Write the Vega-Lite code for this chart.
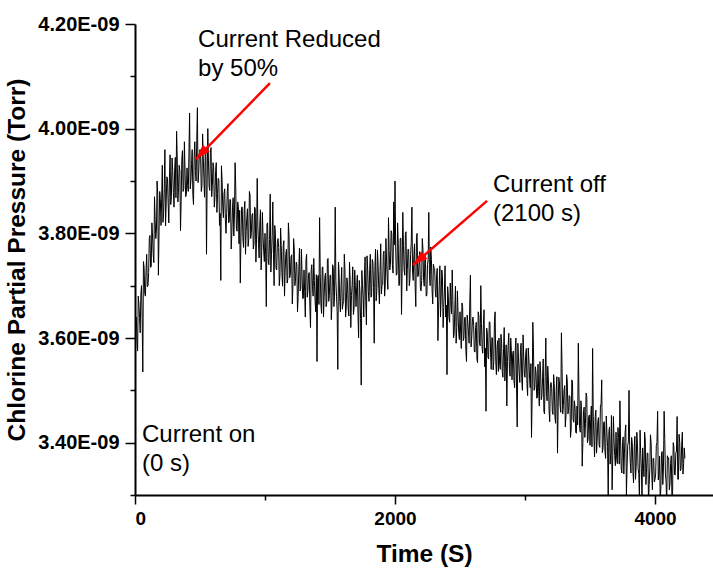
{
 "$schema": "https://vega.github.io/schema/vega-lite/v6.json",
 "width": 578,
 "height": 471,
 "autosize": {"type": "none"},
 "padding": {"left": 135, "top": 24, "right": 0, "bottom": 74},
 "background": "white",
 "config": {
  "view": {"stroke": null},
  "font": "Liberation Sans",
  "axis": {
   "grid": false,
   "domainColor": "black",
   "domainWidth": 2,
   "tickColor": "black",
   "tickWidth": 1.5,
   "labelFont": "Liberation Sans",
   "labelFontWeight": "bold",
   "labelColor": "black",
   "titleFont": "Liberation Sans",
   "titleFontWeight": "bold",
   "titleColor": "black"
  }
 },
 "datasets": {
  "pressure": [
{"t":0,"p":3.585e-9},{"t":5,"p":3.637e-9},{"t":10,"p":3.640e-9},{"t":15,"p":3.596e-9},{"t":20,"p":3.575e-9},{"t":25,"p":3.680e-9},{"t":30,"p":3.665e-9},{"t":35,"p":3.639e-9},{"t":40,"p":3.610e-9},{"t":45,"p":3.683e-9},{"t":50,"p":3.700e-9},{"t":55,"p":3.637e-9},{"t":60,"p":3.535e-9},{"t":65,"p":3.746e-9},{"t":70,"p":3.735e-9},{"t":75,"p":3.685e-9},{"t":80,"p":3.680e-9},{"t":85,"p":3.729e-9},{"t":90,"p":3.760e-9},{"t":95,"p":3.698e-9},
{"t":100,"p":3.700e-9},{"t":105,"p":3.725e-9},{"t":110,"p":3.790e-9},{"t":115,"p":3.796e-9},{"t":120,"p":3.735e-9},{"t":125,"p":3.737e-9},{"t":130,"p":3.820e-9},{"t":135,"p":3.793e-9},{"t":140,"p":3.760e-9},{"t":145,"p":3.744e-9},{"t":150,"p":3.870e-9},{"t":155,"p":3.825e-9},{"t":160,"p":3.790e-9},{"t":165,"p":3.806e-9},{"t":170,"p":3.900e-9},{"t":175,"p":3.872e-9},{"t":180,"p":3.720e-9},{"t":185,"p":3.803e-9},{"t":190,"p":3.880e-9},{"t":195,"p":3.864e-9},
{"t":200,"p":3.815e-9},{"t":205,"p":3.867e-9},{"t":210,"p":3.930e-9},{"t":215,"p":3.821e-9},{"t":220,"p":3.840e-9},{"t":225,"p":3.885e-9},{"t":230,"p":3.960e-9},{"t":235,"p":3.814e-9},{"t":240,"p":3.860e-9},{"t":245,"p":3.908e-9},{"t":250,"p":3.905e-9},{"t":255,"p":3.857e-9},{"t":260,"p":3.820e-9},{"t":265,"p":3.906e-9},{"t":270,"p":3.950e-9},{"t":275,"p":3.855e-9},{"t":280,"p":3.870e-9},{"t":285,"p":3.944e-9},{"t":290,"p":3.920e-9},{"t":295,"p":3.878e-9},
{"t":300,"p":3.850e-9},{"t":305,"p":3.921e-9},{"t":310,"p":3.945e-9},{"t":315,"p":3.868e-9},{"t":320,"p":3.995e-9},{"t":325,"p":3.940e-9},{"t":330,"p":3.860e-9},{"t":335,"p":3.887e-9},{"t":340,"p":3.930e-9},{"t":345,"p":3.919e-9},{"t":350,"p":3.805e-9},{"t":355,"p":3.861e-9},{"t":360,"p":3.940e-9},{"t":365,"p":3.958e-9},{"t":370,"p":3.880e-9},{"t":375,"p":3.885e-9},{"t":380,"p":3.975e-9},{"t":385,"p":3.917e-9},{"t":390,"p":3.870e-9},{"t":395,"p":3.874e-9},
{"t":400,"p":3.925e-9},{"t":405,"p":3.891e-9},{"t":410,"p":3.880e-9},{"t":415,"p":3.953e-9},{"t":420,"p":4.030e-9},{"t":425,"p":3.885e-9},{"t":430,"p":3.900e-9},{"t":435,"p":3.932e-9},{"t":440,"p":3.960e-9},{"t":445,"p":3.874e-9},{"t":450,"p":3.855e-9},{"t":455,"p":3.946e-9},{"t":460,"p":3.975e-9},{"t":465,"p":3.918e-9},{"t":470,"p":3.900e-9},{"t":475,"p":3.977e-9},{"t":480,"p":4.040e-9},{"t":485,"p":3.897e-9},{"t":490,"p":3.915e-9},{"t":495,"p":3.949e-9},
{"t":500,"p":3.960e-9},{"t":505,"p":3.943e-9},{"t":510,"p":3.880e-9},{"t":515,"p":3.890e-9},{"t":520,"p":3.990e-9},{"t":525,"p":3.947e-9},{"t":530,"p":3.905e-9},{"t":535,"p":3.869e-9},{"t":540,"p":3.950e-9},{"t":545,"p":3.956e-9},{"t":550,"p":3.760e-9},{"t":555,"p":3.898e-9},{"t":560,"p":4.000e-9},{"t":565,"p":3.940e-9},{"t":570,"p":3.890e-9},{"t":575,"p":3.882e-9},{"t":580,"p":3.955e-9},{"t":585,"p":3.964e-9},{"t":590,"p":3.870e-9},{"t":595,"p":3.891e-9},
{"t":600,"p":3.935e-9},{"t":605,"p":3.928e-9},{"t":610,"p":3.850e-9},{"t":615,"p":3.869e-9},{"t":620,"p":3.920e-9},{"t":625,"p":3.935e-9},{"t":630,"p":3.840e-9},{"t":635,"p":3.876e-9},{"t":640,"p":3.905e-9},{"t":645,"p":3.902e-9},{"t":650,"p":3.815e-9},{"t":655,"p":3.838e-9},{"t":660,"p":3.710e-9},{"t":665,"p":3.929e-9},{"t":670,"p":3.900e-9},{"t":675,"p":3.850e-9},{"t":680,"p":3.830e-9},{"t":685,"p":3.876e-9},{"t":690,"p":3.885e-9},{"t":695,"p":3.827e-9},
{"t":700,"p":3.800e-9},{"t":705,"p":3.838e-9},{"t":710,"p":3.880e-9},{"t":715,"p":3.895e-9},{"t":720,"p":3.820e-9},{"t":725,"p":3.822e-9},{"t":730,"p":3.865e-9},{"t":735,"p":3.864e-9},{"t":740,"p":3.770e-9},{"t":745,"p":3.801e-9},{"t":750,"p":3.850e-9},{"t":755,"p":3.868e-9},{"t":760,"p":3.795e-9},{"t":765,"p":3.835e-9},{"t":770,"p":3.935e-9},{"t":775,"p":3.887e-9},{"t":780,"p":3.810e-9},{"t":785,"p":3.804e-9},{"t":790,"p":3.860e-9},{"t":795,"p":3.851e-9},
{"t":800,"p":3.780e-9},{"t":805,"p":3.844e-9},{"t":810,"p":3.705e-9},{"t":815,"p":3.792e-9},{"t":820,"p":3.850e-9},{"t":825,"p":3.850e-9},{"t":830,"p":3.790e-9},{"t":835,"p":3.773e-9},{"t":840,"p":3.845e-9},{"t":845,"p":3.861e-9},{"t":850,"p":3.760e-9},{"t":855,"p":3.804e-9},{"t":860,"p":3.830e-9},{"t":865,"p":3.847e-9},{"t":870,"p":3.775e-9},{"t":875,"p":3.790e-9},{"t":880,"p":3.880e-9},{"t":885,"p":3.873e-9},{"t":890,"p":3.790e-9},{"t":895,"p":3.801e-9},
{"t":900,"p":3.835e-9},{"t":905,"p":3.838e-9},{"t":910,"p":3.770e-9},{"t":915,"p":3.780e-9},{"t":920,"p":3.850e-9},{"t":925,"p":3.847e-9},{"t":930,"p":3.745e-9},{"t":935,"p":3.789e-9},{"t":940,"p":3.905e-9},{"t":945,"p":3.816e-9},{"t":950,"p":3.780e-9},{"t":955,"p":3.753e-9},{"t":960,"p":3.820e-9},{"t":965,"p":3.845e-9},{"t":970,"p":3.730e-9},{"t":975,"p":3.767e-9},{"t":980,"p":3.840e-9},{"t":985,"p":3.794e-9},{"t":990,"p":3.765e-9},{"t":995,"p":3.746e-9},
{"t":1000,"p":3.800e-9},{"t":1005,"p":3.759e-9},{"t":1010,"p":3.660e-9},{"t":1015,"p":3.817e-9},{"t":1020,"p":3.820e-9},{"t":1025,"p":3.745e-9},{"t":1030,"p":3.740e-9},{"t":1035,"p":3.788e-9},{"t":1040,"p":3.875e-9},{"t":1045,"p":3.726e-9},{"t":1050,"p":3.760e-9},{"t":1055,"p":3.794e-9},{"t":1060,"p":3.860e-9},{"t":1065,"p":3.762e-9},{"t":1070,"p":3.700e-9},{"t":1075,"p":3.815e-9},{"t":1080,"p":3.800e-9},{"t":1085,"p":3.733e-9},{"t":1090,"p":3.730e-9},{"t":1095,"p":3.781e-9},
{"t":1100,"p":3.790e-9},{"t":1105,"p":3.773e-9},{"t":1110,"p":3.700e-9},{"t":1115,"p":3.720e-9},{"t":1120,"p":3.810e-9},{"t":1125,"p":3.777e-9},{"t":1130,"p":3.725e-9},{"t":1135,"p":3.699e-9},{"t":1140,"p":3.775e-9},{"t":1145,"p":3.786e-9},{"t":1150,"p":3.680e-9},{"t":1155,"p":3.728e-9},{"t":1160,"p":3.760e-9},{"t":1165,"p":3.770e-9},{"t":1170,"p":3.705e-9},{"t":1175,"p":3.712e-9},{"t":1180,"p":3.820e-9},{"t":1185,"p":3.794e-9},{"t":1190,"p":3.715e-9},{"t":1195,"p":3.721e-9},
{"t":1200,"p":3.755e-9},{"t":1205,"p":3.759e-9},{"t":1210,"p":3.665e-9},{"t":1215,"p":3.702e-9},{"t":1220,"p":3.790e-9},{"t":1225,"p":3.770e-9},{"t":1230,"p":3.700e-9},{"t":1235,"p":3.713e-9},{"t":1240,"p":3.745e-9},{"t":1245,"p":3.741e-9},{"t":1250,"p":3.650e-9},{"t":1255,"p":3.679e-9},{"t":1260,"p":3.730e-9},{"t":1265,"p":3.772e-9},{"t":1270,"p":3.690e-9},{"t":1275,"p":3.695e-9},{"t":1280,"p":3.770e-9},{"t":1285,"p":3.723e-9},{"t":1290,"p":3.675e-9},{"t":1295,"p":3.676e-9},
{"t":1300,"p":3.730e-9},{"t":1305,"p":3.689e-9},{"t":1310,"p":3.640e-9},{"t":1315,"p":3.748e-9},{"t":1320,"p":3.760e-9},{"t":1325,"p":3.678e-9},{"t":1330,"p":3.690e-9},{"t":1335,"p":3.722e-9},{"t":1340,"p":3.725e-9},{"t":1345,"p":3.660e-9},{"t":1350,"p":3.620e-9},{"t":1355,"p":3.729e-9},{"t":1360,"p":3.740e-9},{"t":1365,"p":3.698e-9},{"t":1370,"p":3.680e-9},{"t":1375,"p":3.752e-9},{"t":1380,"p":3.710e-9},{"t":1385,"p":3.672e-9},{"t":1390,"p":3.650e-9},{"t":1395,"p":3.721e-9},
{"t":1400,"p":3.555e-9},{"t":1405,"p":3.715e-9},{"t":1410,"p":3.720e-9},{"t":1415,"p":3.664e-9},{"t":1420,"p":3.830e-9},{"t":1425,"p":3.723e-9},{"t":1430,"p":3.665e-9},{"t":1435,"p":3.647e-9},{"t":1440,"p":3.735e-9},{"t":1445,"p":3.736e-9},{"t":1450,"p":3.640e-9},{"t":1455,"p":3.680e-9},{"t":1460,"p":3.715e-9},{"t":1465,"p":3.724e-9},{"t":1470,"p":3.660e-9},{"t":1475,"p":3.668e-9},{"t":1480,"p":3.750e-9},{"t":1485,"p":3.752e-9},{"t":1490,"p":3.670e-9},{"t":1495,"p":3.681e-9},
{"t":1500,"p":3.720e-9},{"t":1505,"p":3.720e-9},{"t":1510,"p":3.635e-9},{"t":1515,"p":3.665e-9},{"t":1520,"p":3.740e-9},{"t":1525,"p":3.735e-9},{"t":1530,"p":3.660e-9},{"t":1535,"p":3.680e-9},{"t":1540,"p":3.850e-9},{"t":1545,"p":3.710e-9},{"t":1550,"p":3.680e-9},{"t":1555,"p":3.650e-9},{"t":1560,"p":3.540e-9},{"t":1565,"p":3.745e-9},{"t":1570,"p":3.725e-9},{"t":1575,"p":3.670e-9},{"t":1580,"p":3.650e-9},{"t":1585,"p":3.700e-9},{"t":1590,"p":3.735e-9},{"t":1595,"p":3.655e-9},
{"t":1600,"p":3.665e-9},{"t":1605,"p":3.670e-9},{"t":1610,"p":3.760e-9},{"t":1615,"p":3.729e-9},{"t":1620,"p":3.640e-9},{"t":1625,"p":3.659e-9},{"t":1630,"p":3.715e-9},{"t":1635,"p":3.703e-9},{"t":1640,"p":3.655e-9},{"t":1645,"p":3.642e-9},{"t":1650,"p":3.745e-9},{"t":1655,"p":3.711e-9},{"t":1660,"p":3.620e-9},{"t":1665,"p":3.681e-9},{"t":1670,"p":3.700e-9},{"t":1675,"p":3.736e-9},{"t":1680,"p":3.645e-9},{"t":1685,"p":3.656e-9},{"t":1690,"p":3.730e-9},{"t":1695,"p":3.700e-9},
{"t":1700,"p":3.660e-9},{"t":1705,"p":3.696e-9},{"t":1710,"p":3.720e-9},{"t":1715,"p":3.648e-9},{"t":1720,"p":3.600e-9},{"t":1725,"p":3.710e-9},{"t":1730,"p":3.690e-9},{"t":1735,"p":3.637e-9},{"t":1740,"p":3.510e-9},{"t":1745,"p":3.729e-9},{"t":1750,"p":3.700e-9},{"t":1755,"p":3.676e-9},{"t":1760,"p":3.640e-9},{"t":1765,"p":3.723e-9},{"t":1770,"p":3.755e-9},{"t":1775,"p":3.670e-9},{"t":1780,"p":3.625e-9},{"t":1785,"p":3.757e-9},{"t":1790,"p":3.730e-9},{"t":1795,"p":3.689e-9},
{"t":1800,"p":3.670e-9},{"t":1805,"p":3.731e-9},{"t":1810,"p":3.760e-9},{"t":1815,"p":3.678e-9},{"t":1820,"p":3.680e-9},{"t":1825,"p":3.750e-9},{"t":1830,"p":3.745e-9},{"t":1835,"p":3.697e-9},{"t":1840,"p":3.590e-9},{"t":1845,"p":3.729e-9},{"t":1850,"p":3.770e-9},{"t":1855,"p":3.671e-9},{"t":1860,"p":3.690e-9},{"t":1865,"p":3.768e-9},{"t":1870,"p":3.740e-9},{"t":1875,"p":3.695e-9},{"t":1880,"p":3.665e-9},{"t":1885,"p":3.727e-9},{"t":1890,"p":3.780e-9},{"t":1895,"p":3.684e-9},
{"t":1900,"p":3.700e-9},{"t":1905,"p":3.702e-9},{"t":1910,"p":3.760e-9},{"t":1915,"p":3.766e-9},{"t":1920,"p":3.680e-9},{"t":1925,"p":3.700e-9},{"t":1930,"p":3.790e-9},{"t":1935,"p":3.749e-9},{"t":1940,"p":3.715e-9},{"t":1945,"p":3.693e-9},{"t":1950,"p":3.830e-9},{"t":1955,"p":3.767e-9},{"t":1960,"p":3.730e-9},{"t":1965,"p":3.741e-9},{"t":1970,"p":3.805e-9},{"t":1975,"p":3.800e-9},{"t":1980,"p":3.740e-9},{"t":1985,"p":3.724e-9},{"t":1990,"p":3.860e-9},{"t":1995,"p":3.778e-9},
{"t":2000,"p":3.900e-9},{"t":2005,"p":3.774e-9},{"t":2010,"p":3.720e-9},{"t":2015,"p":3.722e-9},{"t":2020,"p":3.820e-9},{"t":2025,"p":3.780e-9},{"t":2030,"p":3.700e-9},{"t":2035,"p":3.703e-9},{"t":2040,"p":3.790e-9},{"t":2045,"p":3.791e-9},{"t":2050,"p":3.645e-9},{"t":2055,"p":3.734e-9},{"t":2060,"p":3.840e-9},{"t":2065,"p":3.777e-9},{"t":2070,"p":3.730e-9},{"t":2075,"p":3.720e-9},{"t":2080,"p":3.800e-9},{"t":2085,"p":3.803e-9},{"t":2090,"p":3.690e-9},{"t":2095,"p":3.731e-9},
{"t":2100,"p":3.770e-9},{"t":2105,"p":3.769e-9},{"t":2110,"p":3.700e-9},{"t":2115,"p":3.714e-9},{"t":2120,"p":3.760e-9},{"t":2125,"p":3.783e-9},{"t":2130,"p":3.850e-9},{"t":2135,"p":3.728e-9},{"t":2140,"p":3.710e-9},{"t":2145,"p":3.758e-9},{"t":2150,"p":3.780e-9},{"t":2155,"p":3.697e-9},{"t":2160,"p":3.660e-9},{"t":2165,"p":3.792e-9},{"t":2170,"p":3.800e-9},{"t":2175,"p":3.717e-9},{"t":2180,"p":3.720e-9},{"t":2185,"p":3.742e-9},{"t":2190,"p":3.765e-9},{"t":2195,"p":3.696e-9},
{"t":2200,"p":3.690e-9},{"t":2205,"p":3.710e-9},{"t":2210,"p":3.790e-9},{"t":2215,"p":3.769e-9},{"t":2220,"p":3.710e-9},{"t":2225,"p":3.699e-9},{"t":2230,"p":3.760e-9},{"t":2235,"p":3.743e-9},{"t":2240,"p":3.680e-9},{"t":2245,"p":3.682e-9},{"t":2250,"p":3.740e-9},{"t":2255,"p":3.751e-9},{"t":2260,"p":3.840e-9},{"t":2265,"p":3.720e-9},{"t":2270,"p":3.700e-9},{"t":2275,"p":3.774e-9},{"t":2280,"p":3.750e-9},{"t":2285,"p":3.693e-9},{"t":2290,"p":3.665e-9},{"t":2295,"p":3.741e-9},
{"t":2300,"p":3.735e-9},{"t":2305,"p":3.733e-9},{"t":2310,"p":3.690e-9},{"t":2315,"p":3.678e-9},{"t":2320,"p":3.720e-9},{"t":2325,"p":3.733e-9},{"t":2330,"p":3.595e-9},{"t":2335,"p":3.653e-9},{"t":2340,"p":3.700e-9},{"t":2345,"p":3.738e-9},{"t":2350,"p":3.640e-9},{"t":2355,"p":3.678e-9},{"t":2360,"p":3.730e-9},{"t":2365,"p":3.718e-9},{"t":2370,"p":3.620e-9},{"t":2375,"p":3.658e-9},{"t":2380,"p":3.690e-9},{"t":2385,"p":3.738e-9},{"t":2390,"p":3.640e-9},{"t":2395,"p":3.663e-9},
{"t":2400,"p":3.530e-9},{"t":2405,"p":3.698e-9},{"t":2410,"p":3.680e-9},{"t":2415,"p":3.639e-9},{"t":2420,"p":3.630e-9},{"t":2425,"p":3.705e-9},{"t":2430,"p":3.665e-9},{"t":2435,"p":3.646e-9},{"t":2440,"p":3.730e-9},{"t":2445,"p":3.672e-9},{"t":2450,"p":3.600e-9},{"t":2455,"p":3.608e-9},{"t":2460,"p":3.655e-9},{"t":2465,"p":3.699e-9},{"t":2470,"p":3.590e-9},{"t":2475,"p":3.620e-9},{"t":2480,"p":3.690e-9},{"t":2485,"p":3.646e-9},{"t":2490,"p":3.610e-9},{"t":2495,"p":3.597e-9},
{"t":2500,"p":3.650e-9},{"t":2505,"p":3.609e-9},{"t":2510,"p":3.580e-9},{"t":2515,"p":3.667e-9},{"t":2520,"p":3.660e-9},{"t":2525,"p":3.595e-9},{"t":2530,"p":3.600e-9},{"t":2535,"p":3.638e-9},{"t":2540,"p":3.640e-9},{"t":2545,"p":3.576e-9},{"t":2550,"p":3.555e-9},{"t":2555,"p":3.644e-9},{"t":2560,"p":3.630e-9},{"t":2565,"p":3.612e-9},{"t":2570,"p":3.590e-9},{"t":2575,"p":3.665e-9},{"t":2580,"p":3.720e-9},{"t":2585,"p":3.583e-9},{"t":2590,"p":3.600e-9},{"t":2595,"p":3.631e-9},
{"t":2600,"p":3.640e-9},{"t":2605,"p":3.624e-9},{"t":2610,"p":3.575e-9},{"t":2615,"p":3.573e-9},{"t":2620,"p":3.620e-9},{"t":2625,"p":3.630e-9},{"t":2630,"p":3.560e-9},{"t":2635,"p":3.553e-9},{"t":2640,"p":3.650e-9},{"t":2645,"p":3.642e-9},{"t":2650,"p":3.590e-9},{"t":2655,"p":3.585e-9},{"t":2660,"p":3.700e-9},{"t":2665,"p":3.628e-9},{"t":2670,"p":3.580e-9},{"t":2675,"p":3.571e-9},{"t":2680,"p":3.625e-9},{"t":2685,"p":3.654e-9},{"t":2690,"p":3.545e-9},{"t":2695,"p":3.581e-9},
{"t":2700,"p":3.460e-9},{"t":2705,"p":3.619e-9},{"t":2710,"p":3.610e-9},{"t":2715,"p":3.563e-9},{"t":2720,"p":3.560e-9},{"t":2725,"p":3.631e-9},{"t":2730,"p":3.630e-9},{"t":2735,"p":3.573e-9},{"t":2740,"p":3.540e-9},{"t":2745,"p":3.601e-9},{"t":2750,"p":3.600e-9},{"t":2755,"p":3.539e-9},{"t":2760,"p":3.555e-9},{"t":2765,"p":3.632e-9},{"t":2770,"p":3.650e-9},{"t":2775,"p":3.555e-9},{"t":2780,"p":3.530e-9},{"t":2785,"p":3.583e-9},{"t":2790,"p":3.595e-9},{"t":2795,"p":3.536e-9},
{"t":2800,"p":3.600e-9},{"t":2805,"p":3.549e-9},{"t":2810,"p":3.540e-9},{"t":2815,"p":3.607e-9},{"t":2820,"p":3.590e-9},{"t":2825,"p":3.536e-9},{"t":2830,"p":3.525e-9},{"t":2835,"p":3.580e-9},{"t":2840,"p":3.620e-9},{"t":2845,"p":3.518e-9},{"t":2850,"p":3.555e-9},{"t":2855,"p":3.587e-9},{"t":2860,"p":3.470e-9},{"t":2865,"p":3.555e-9},{"t":2870,"p":3.585e-9},{"t":2875,"p":3.609e-9},{"t":2880,"p":3.540e-9},{"t":2885,"p":3.527e-9},{"t":2890,"p":3.600e-9},{"t":2895,"p":3.576e-9},
{"t":2900,"p":3.520e-9},{"t":2905,"p":3.569e-9},{"t":2910,"p":3.575e-9},{"t":2915,"p":3.518e-9},{"t":2920,"p":3.505e-9},{"t":2925,"p":3.577e-9},{"t":2930,"p":3.600e-9},{"t":2935,"p":3.501e-9},{"t":2940,"p":3.430e-9},{"t":2945,"p":3.590e-9},{"t":2950,"p":3.560e-9},{"t":2955,"p":3.534e-9},{"t":2960,"p":3.515e-9},{"t":2965,"p":3.578e-9},{"t":2970,"p":3.590e-9},{"t":2975,"p":3.522e-9},{"t":2980,"p":3.500e-9},{"t":2985,"p":3.606e-9},{"t":2990,"p":3.565e-9},{"t":2995,"p":3.531e-9},
{"t":3000,"p":3.525e-9},{"t":3005,"p":3.569e-9},{"t":3010,"p":3.580e-9},{"t":3015,"p":3.513e-9},{"t":3020,"p":3.490e-9},{"t":3025,"p":3.581e-9},{"t":3030,"p":3.560e-9},{"t":3035,"p":3.523e-9},{"t":3040,"p":3.505e-9},{"t":3045,"p":3.551e-9},{"t":3050,"p":3.410e-9},{"t":3055,"p":3.489e-9},{"t":3060,"p":3.630e-9},{"t":3065,"p":3.582e-9},{"t":3070,"p":3.500e-9},{"t":3075,"p":3.505e-9},{"t":3080,"p":3.545e-9},{"t":3085,"p":3.533e-9},{"t":3090,"p":3.485e-9},{"t":3095,"p":3.486e-9},
{"t":3100,"p":3.550e-9},{"t":3105,"p":3.498e-9},{"t":3110,"p":3.470e-9},{"t":3115,"p":3.555e-9},{"t":3120,"p":3.535e-9},{"t":3125,"p":3.482e-9},{"t":3130,"p":3.490e-9},{"t":3135,"p":3.524e-9},{"t":3140,"p":3.560e-9},{"t":3145,"p":3.460e-9},{"t":3150,"p":3.455e-9},{"t":3155,"p":3.527e-9},{"t":3160,"p":3.600e-9},{"t":3165,"p":3.494e-9},{"t":3170,"p":3.480e-9},{"t":3175,"p":3.546e-9},{"t":3180,"p":3.520e-9},{"t":3185,"p":3.463e-9},{"t":3190,"p":3.440e-9},{"t":3195,"p":3.510e-9},
{"t":3200,"p":3.515e-9},{"t":3205,"p":3.505e-9},{"t":3210,"p":3.460e-9},{"t":3215,"p":3.454e-9},{"t":3220,"p":3.530e-9},{"t":3225,"p":3.513e-9},{"t":3230,"p":3.450e-9},{"t":3235,"p":3.437e-9},{"t":3240,"p":3.500e-9},{"t":3245,"p":3.526e-9},{"t":3250,"p":3.380e-9},{"t":3255,"p":3.470e-9},{"t":3260,"p":3.525e-9},{"t":3265,"p":3.514e-9},{"t":3270,"p":3.470e-9},{"t":3275,"p":3.458e-9},{"t":3280,"p":3.610e-9},{"t":3285,"p":3.542e-9},{"t":3290,"p":3.455e-9},{"t":3295,"p":3.471e-9},
{"t":3300,"p":3.500e-9},{"t":3305,"p":3.509e-9},{"t":3310,"p":3.430e-9},{"t":3315,"p":3.451e-9},{"t":3320,"p":3.530e-9},{"t":3325,"p":3.519e-9},{"t":3330,"p":3.455e-9},{"t":3335,"p":3.461e-9},{"t":3340,"p":3.490e-9},{"t":3345,"p":3.488e-9},{"t":3350,"p":3.410e-9},{"t":3355,"p":3.426e-9},{"t":3360,"p":3.520e-9},{"t":3365,"p":3.516e-9},{"t":3370,"p":3.445e-9},{"t":3375,"p":3.439e-9},{"t":3380,"p":3.480e-9},{"t":3385,"p":3.466e-9},{"t":3390,"p":3.420e-9},{"t":3395,"p":3.418e-9},
{"t":3400,"p":3.470e-9},{"t":3405,"p":3.434e-9},{"t":3410,"p":3.590e-9},{"t":3415,"p":3.492e-9},{"t":3420,"p":3.430e-9},{"t":3425,"p":3.420e-9},{"t":3430,"p":3.480e-9},{"t":3435,"p":3.463e-9},{"t":3440,"p":3.355e-9},{"t":3445,"p":3.400e-9},{"t":3450,"p":3.460e-9},{"t":3455,"p":3.468e-9},{"t":3460,"p":3.410e-9},{"t":3465,"p":3.436e-9},{"t":3470,"p":3.495e-9},{"t":3475,"p":3.488e-9},{"t":3480,"p":3.400e-9},{"t":3485,"p":3.406e-9},{"t":3490,"p":3.450e-9},{"t":3495,"p":3.453e-9},
{"t":3500,"p":3.395e-9},{"t":3505,"p":3.444e-9},{"t":3510,"p":3.470e-9},{"t":3515,"p":3.392e-9},{"t":3520,"p":3.580e-9},{"t":3525,"p":3.450e-9},{"t":3530,"p":3.410e-9},{"t":3535,"p":3.373e-9},{"t":3540,"p":3.450e-9},{"t":3545,"p":3.462e-9},{"t":3550,"p":3.380e-9},{"t":3555,"p":3.405e-9},{"t":3560,"p":3.440e-9},{"t":3565,"p":3.448e-9},{"t":3570,"p":3.395e-9},{"t":3575,"p":3.391e-9},{"t":3580,"p":3.470e-9},{"t":3585,"p":3.474e-9},{"t":3590,"p":3.520e-9},{"t":3595,"p":3.381e-9},
{"t":3600,"p":3.390e-9},{"t":3605,"p":3.439e-9},{"t":3610,"p":3.440e-9},{"t":3615,"p":3.383e-9},{"t":3620,"p":3.370e-9},{"t":3625,"p":3.451e-9},{"t":3630,"p":3.420e-9},{"t":3635,"p":3.393e-9},{"t":3640,"p":3.295e-9},{"t":3645,"p":3.421e-9},{"t":3650,"p":3.430e-9},{"t":3655,"p":3.359e-9},{"t":3660,"p":3.380e-9},{"t":3665,"p":3.452e-9},{"t":3670,"p":3.310e-9},{"t":3675,"p":3.375e-9},{"t":3680,"p":3.450e-9},{"t":3685,"p":3.403e-9},{"t":3690,"p":3.375e-9},{"t":3695,"p":3.356e-9},
{"t":3700,"p":3.420e-9},{"t":3705,"p":3.370e-9},{"t":3710,"p":3.360e-9},{"t":3715,"p":3.429e-9},{"t":3720,"p":3.410e-9},{"t":3725,"p":3.359e-9},{"t":3730,"p":3.480e-9},{"t":3735,"p":3.403e-9},{"t":3740,"p":3.350e-9},{"t":3745,"p":3.342e-9},{"t":3750,"p":3.400e-9},{"t":3755,"p":3.411e-9},{"t":3760,"p":3.340e-9},{"t":3765,"p":3.380e-9},{"t":3770,"p":3.420e-9},{"t":3775,"p":3.434e-9},{"t":3780,"p":3.300e-9},{"t":3785,"p":3.353e-9},{"t":3790,"p":3.395e-9},{"t":3795,"p":3.401e-9},
{"t":3800,"p":3.500e-9},{"t":3805,"p":3.394e-9},{"t":3810,"p":3.360e-9},{"t":3815,"p":3.342e-9},{"t":3820,"p":3.410e-9},{"t":3825,"p":3.400e-9},{"t":3830,"p":3.345e-9},{"t":3835,"p":3.323e-9},{"t":3840,"p":3.390e-9},{"t":3845,"p":3.412e-9},{"t":3850,"p":3.330e-9},{"t":3855,"p":3.355e-9},{"t":3860,"p":3.420e-9},{"t":3865,"p":3.398e-9},{"t":3870,"p":3.350e-9},{"t":3875,"p":3.341e-9},{"t":3880,"p":3.295e-9},{"t":3885,"p":3.424e-9},{"t":3890,"p":3.380e-9},{"t":3895,"p":3.351e-9},
{"t":3900,"p":3.290e-9},{"t":3905,"p":3.390e-9},{"t":3910,"p":3.360e-9},{"t":3915,"p":3.335e-9},{"t":3920,"p":3.420e-9},{"t":3925,"p":3.405e-9},{"t":3930,"p":3.320e-9},{"t":3935,"p":3.350e-9},{"t":3940,"p":3.380e-9},{"t":3945,"p":3.380e-9},{"t":3950,"p":3.285e-9},{"t":3955,"p":3.320e-9},{"t":3960,"p":3.350e-9},{"t":3965,"p":3.415e-9},{"t":3970,"p":3.400e-9},{"t":3975,"p":3.340e-9},{"t":3980,"p":3.310e-9},{"t":3985,"p":3.370e-9},{"t":3990,"p":3.370e-9},{"t":3995,"p":3.325e-9},
{"t":4000,"p":3.330e-9},{"t":4005,"p":3.340e-9},{"t":4010,"p":3.395e-9},{"t":4015,"p":3.400e-9},{"t":4020,"p":3.460e-9},{"t":4025,"p":3.329e-9},{"t":4030,"p":3.340e-9},{"t":4035,"p":3.374e-9},{"t":4040,"p":3.290e-9},{"t":4045,"p":3.313e-9},{"t":4050,"p":3.380e-9},{"t":4055,"p":3.383e-9},{"t":4060,"p":3.320e-9},{"t":4065,"p":3.352e-9},{"t":4070,"p":3.460e-9},{"t":4075,"p":3.406e-9},{"t":4080,"p":3.340e-9},{"t":4085,"p":3.325e-9},{"t":4090,"p":3.285e-9},{"t":4095,"p":3.375e-9},
{"t":4100,"p":3.370e-9},{"t":4105,"p":3.371e-9},{"t":4110,"p":3.310e-9},{"t":4115,"p":3.321e-9},{"t":4120,"p":3.360e-9},{"t":4125,"p":3.375e-9},{"t":4130,"p":3.295e-9},{"t":4135,"p":3.301e-9},{"t":4140,"p":3.400e-9},{"t":4145,"p":3.392e-9},{"t":4150,"p":3.340e-9},{"t":4155,"p":3.338e-9},{"t":4160,"p":3.380e-9},{"t":4165,"p":3.384e-9},{"t":4170,"p":3.450e-9},{"t":4175,"p":3.330e-9},{"t":4180,"p":3.330e-9},{"t":4185,"p":3.416e-9},{"t":4190,"p":3.400e-9},{"t":4195,"p":3.346e-9},
{"t":4200,"p":3.350e-9},{"t":4205,"p":3.395e-9},{"t":4210,"p":3.420e-9},{"t":4215,"p":3.340e-9},{"t":4220,"p":3.360e-9},{"t":4225,"p":3.390e-9},{"t":4230,"p":3.370e-9}
  ],
  "notes": [
   {"label": "Current Reduced\nby 50%", "t": 485, "p": 4.156e-9},
   {"label": "Current off\n\u00a0(2100 s)", "t": 2754, "p": 3.879e-9},
   {"label": "Current on\n(0 s)", "t": 54, "p": 3.401e-9}
  ],
  "arrows": [
   {"note": "reduced", "t_from": 1038, "p_from": 4.087e-9, "t_to": 469, "p_to": 3.942e-9},
   {"note": "off", "t_from": 2708, "p_from": 3.862e-9, "t_to": 2138, "p_to": 3.7395e-9}
  ]
 },
 "encoding": {
  "x": {
   "type": "quantitative",
   "scale": {"domain": [0, 4446], "nice": false, "zero": false},
   "axis": {
    "title": "Time (S)",
    "titleFontSize": 24.5,
    "titlePadding": 14,
    "labelFontSize": 19,
    "labelPadding": 5,
    "values": [0, 1000, 2000, 3000, 4000],
    "labelExpr": "datum.value % 2000 == 0 ? format(datum.value, 'd') : ''",
    "tickSize": {"condition": {"test": "datum.value % 2000 == 0", "value": 9}, "value": 5}
   }
  },
  "y": {
   "type": "quantitative",
   "scale": {"domain": [3.3e-9, 4.2e-9], "nice": false, "zero": false},
   "axis": {
    "title": "Chlorine Partial Pressure (Torr)",
    "titleFontSize": 24.5,
    "titlePadding": 8,
    "labelFontSize": 20,
    "labelPadding": 6,
    "values": [3.3e-9, 3.4e-9, 3.5e-9, 3.6e-9, 3.7e-9, 3.8e-9, 3.9e-9, 4.0e-9, 4.1e-9, 4.2e-9],
    "labelExpr": "round(datum.value * 1e10) % 2 == 0 ? format(datum.value * 1e9, '.2f') + 'E-09' : ''",
    "tickSize": {"condition": {"test": "round(datum.value * 1e10) % 2 == 0", "value": 10}, "value": 5}
   }
  }
 },
 "layer": [
  {
   "data": {"name": "pressure"},
   "mark": {"type": "line", "color": "black", "strokeWidth": 1, "clip": true},
   "encoding": {
    "x": {"field": "t"},
    "y": {"field": "p"}
   }
  },
  {
   "data": {"name": "arrows"},
   "mark": {"type": "rule", "color": "#ff0000", "strokeWidth": 2.5},
   "encoding": {
    "x": {"field": "t_from"},
    "y": {"field": "p_from"},
    "x2": {"field": "t_to"},
    "y2": {"field": "p_to"}
   }
  },
  {
   "data": {"name": "arrows"},
   "transform": [{"filter": "datum.note == 'reduced'"}],
   "mark": {"type": "point", "shape": "M0,0L-0.65,2L0.65,2Z", "filled": true, "color": "#ff0000", "opacity": 1, "size": 225, "angle": 224, "strokeWidth": 0},
   "encoding": {
    "x": {"field": "t_to"},
    "y": {"field": "p_to"}
   }
  },
  {
   "data": {"name": "arrows"},
   "transform": [{"filter": "datum.note == 'off'"}],
   "mark": {"type": "point", "shape": "M0,0L-0.65,2L0.65,2Z", "filled": true, "color": "#ff0000", "opacity": 1, "size": 225, "angle": 229, "strokeWidth": 0},
   "encoding": {
    "x": {"field": "t_to"},
    "y": {"field": "p_to"}
   }
  },
  {
   "data": {"name": "notes"},
   "mark": {"type": "text", "align": "left", "baseline": "alphabetic", "fontSize": 24, "font": "Liberation Sans", "lineHeight": 29, "lineBreak": "\n", "color": "black"},
   "encoding": {
    "x": {"field": "t"},
    "y": {"field": "p"},
    "text": {"field": "label"}
   }
  }
 ]
}
